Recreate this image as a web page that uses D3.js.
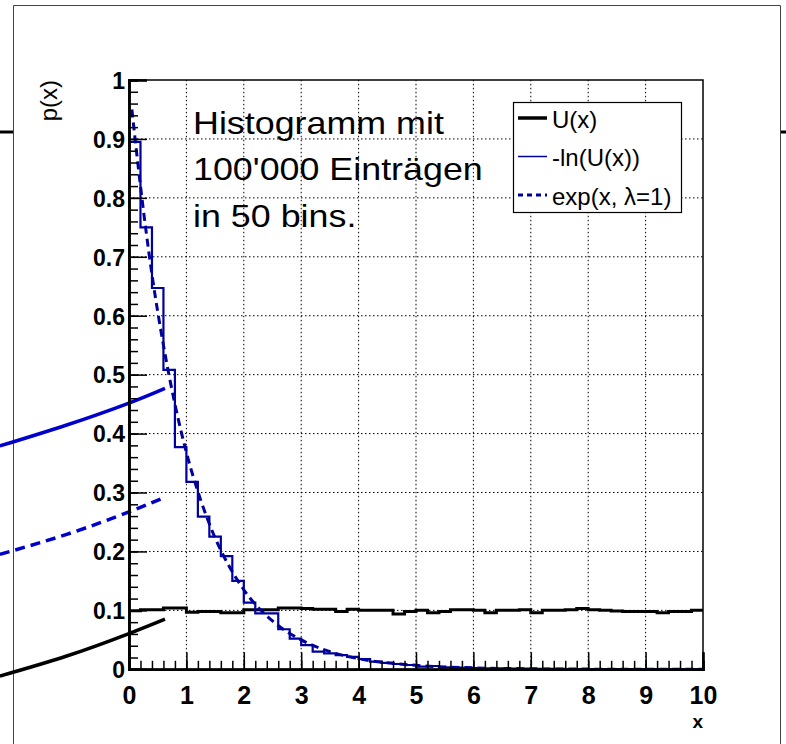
<!DOCTYPE html>
<html>
<head>
<meta charset="utf-8">
<script src="https://cdn.jsdelivr.net/npm/d3@7"></script>
<style>
  body { margin: 0; background: #fff; }
  svg { display: block; }
</style>
</head>
<body>
<svg id="chart" width="786" height="744"></svg>
<script>
// bin contents, 50 bins of width 0.2 on [0,10]
var BIN_WIDTH = 0.2;
var uniformHist = [0.0995, 0.101, 0.101, 0.104, 0.104, 0.097, 0.098, 0.098, 0.096, 0.096,
  0.101, 0.101, 0.101, 0.104, 0.104, 0.103, 0.102, 0.102, 0.098, 0.102,
  0.100, 0.100, 0.100, 0.094, 0.098, 0.100, 0.096, 0.098, 0.101, 0.101,
  0.100, 0.096, 0.100, 0.100, 0.101, 0.096, 0.100, 0.100, 0.101, 0.103,
  0.101, 0.100, 0.099, 0.098, 0.098, 0.098, 0.096, 0.098, 0.098, 0.100];
var expHist = [0.895, 0.75, 0.647, 0.508, 0.377, 0.318, 0.259, 0.225, 0.192, 0.150,
  0.113, 0.095, 0.095, 0.068, 0.052, 0.041, 0.030, 0.027, 0.024, 0.021,
  0.0175, 0.013, 0.011, 0.009, 0.0073, 0.0045, 0.0056, 0.0034, 0.003, 0.0025,
  0.002, 0.0018, 0.0015, 0.0012, 0.001, 0.0008, 0.0007, 0.0006, 0.0005, 0.0004,
  0.0004, 0.0003, 0.0003, 0.0002, 0.0002, 0.0002, 0.0001, 0.0001, 0.0001, 0.0001];
// dashed function curve
var expCurve = [[0.05, 0.95], [0.2, 0.82], [0.4, 0.67], [0.6, 0.55], [0.8, 0.45], [1.0, 0.368],
  [1.25, 0.287], [1.5, 0.223], [1.75, 0.174], [2.0, 0.135], [2.5, 0.082], [3.0, 0.05],
  [3.5, 0.03], [4.0, 0.018], [5.0, 0.0067], [6.0, 0.0025], [7.0, 0.0009], [8.0, 0.0003], [10.0, 0.00005]];
// stray curves sticking out left of the frame
var strayBlue = [[-2.25, 0.379], [-1.085, 0.4146], [-0.012, 0.4514], [0.627, 0.4768]];
var strayBlueDash = [[-2.25, 0.1951], [-1.085, 0.2290], [-0.012, 0.2667], [0.627, 0.2921]];
var strayBlack = [[-2.25, -0.0114], [-1.085, 0.0226], [-0.012, 0.0603], [0.627, 0.0852]];

var xMajor = d3.range(0, 11, 1);
var xMinor = d3.range(0, 10.01, 0.2);
var yMajor = d3.range(0, 1.01, 0.1);
var yMinor = d3.range(0, 1.001, 0.02);
var textLines = ["Histogramm mit", "100'000 Einträgen", "in 50 bins."];
var legendItems = ["U(x)", "-ln(U(x))", "exp(x, λ=1)"];

var HIST_BLUE = "#00009c";
var CURVE_BLUE = "#0000cc";
var FONT = "Liberation Sans, Arial, sans-serif";

var svg = d3.select("#chart");
var x = d3.scaleLinear().domain([0, 10]).range([129, 703]);
var y = d3.scaleLinear().domain([0, 1]).range([669.3, 80]);

// outer pad border and the little marks at its sides
svg.append("path").attr("d", "M13.5,744V5.5H780.5V744")
  .attr("fill", "none").attr("stroke", "#444").attr("stroke-width", 1);
svg.append("line").attr("x1", 0).attr("x2", 13).attr("y1", 132).attr("y2", 132)
  .attr("stroke", "#000").attr("stroke-width", 3);
svg.append("line").attr("x1", 781).attr("x2", 786).attr("y1", 132).attr("y2", 132)
  .attr("stroke", "#000").attr("stroke-width", 3);

// grid
var grid = svg.append("g").attr("stroke", "#000").attr("stroke-width", 1).attr("stroke-dasharray", "1.5,2.5");
grid.selectAll(".gx").data(xMajor.slice(1, -1)).join("line")
  .attr("x1", d => x(d)).attr("x2", d => x(d)).attr("y1", y(0)).attr("y2", y(1));
grid.selectAll(".gy").data(yMajor.slice(1, -1)).join("line")
  .attr("y1", d => y(d)).attr("y2", d => y(d)).attr("x1", x(0)).attr("x2", x(10));

// stray curves (drawn first, frame stays on top)
var smooth = d3.line().x(d => x(d[0])).y(d => y(d[1])).curve(d3.curveNatural);
svg.append("path").datum(strayBlue).attr("d", smooth)
  .attr("fill", "none").attr("stroke", CURVE_BLUE).attr("stroke-width", 3.5);
svg.append("path").datum(strayBlueDash).attr("d", smooth)
  .attr("fill", "none").attr("stroke", CURVE_BLUE).attr("stroke-width", 3.5).attr("stroke-dasharray", "10,6");
svg.append("path").datum(strayBlack).attr("d", smooth)
  .attr("fill", "none").attr("stroke", "#000").attr("stroke-width", 3.5);

// histograms as step lines
function stepPoints(vals) {
  var pts = [];
  vals.forEach(function(v, i) {
    pts.push([i * BIN_WIDTH, v]);
    pts.push([(i + 1) * BIN_WIDTH, v]);
  });
  return pts;
}
var straight = d3.line().x(d => x(d[0])).y(d => y(d[1]));
svg.append("path").datum(stepPoints(uniformHist)).attr("d", straight)
  .attr("fill", "none").attr("stroke", "#000").attr("stroke-width", 3);
svg.append("path").datum(stepPoints(expHist)).attr("d", straight)
  .attr("fill", "none").attr("stroke", HIST_BLUE).attr("stroke-width", 2.2);
svg.append("path").datum(expCurve).attr("d", d3.line().x(d => x(d[0])).y(d => y(d[1])).curve(d3.curveMonotoneX))
  .attr("fill", "none").attr("stroke", HIST_BLUE).attr("stroke-width", 3).attr("stroke-dasharray", "8,5");

// frame
svg.append("rect").attr("x", x(0)).attr("y", y(1)).attr("width", x(10) - x(0)).attr("height", y(0) - y(1))
  .attr("fill", "none").attr("stroke", "#000").attr("stroke-width", 1.5);

// axes
var fmt = d => String(+d.toFixed(1));
var xMinorAxis = svg.append("g").attr("transform", "translate(0," + y(0) + ")")
  .call(d3.axisBottom(x).tickValues(xMinor).tickSize(-8.5).tickFormat(""));
var xMajorAxis = svg.append("g").attr("transform", "translate(0," + y(0) + ")")
  .call(d3.axisBottom(x).tickValues(xMajor).tickSize(-17).tickPadding(17).tickFormat(fmt));
var yMinorAxis = svg.append("g").attr("transform", "translate(" + x(0) + ",0)")
  .call(d3.axisLeft(y).tickValues(yMinor).tickSize(-9).tickFormat(""));
var yMajorAxis = svg.append("g").attr("transform", "translate(" + x(0) + ",0)")
  .call(d3.axisLeft(y).tickValues(yMajor).tickSize(-18).tickPadding(4).tickFormat(fmt));
[xMinorAxis, xMajorAxis, yMinorAxis, yMajorAxis].forEach(function(g) {
  g.select(".domain").attr("stroke", "#000").attr("stroke-width", 2.5);
  g.selectAll(".tick line").attr("stroke", "#000").attr("stroke-width", 1.5);
});
xMajorAxis.selectAll("text").attr("font-family", FONT)
  .attr("font-weight", "bold").attr("font-size", 25).attr("fill", "#000");
yMajorAxis.selectAll("text").attr("font-family", FONT)
  .attr("font-weight", "bold").attr("font-size", 23).attr("fill", "#000").attr("dy", "0.36em");

// axis titles
svg.append("text").attr("x", 703).attr("y", 728).attr("text-anchor", "end")
  .attr("font-family", FONT).attr("font-weight", "bold").attr("font-size", 19)
  .text("x");
svg.append("text").attr("transform", "translate(57,80) rotate(-90)").attr("text-anchor", "end")
  .attr("font-family", FONT).attr("font-size", 24)
  .text("p(x)");

// annotation text, slightly widened like the original rendering
svg.append("g").attr("transform", "translate(193,0) scale(1.12,1)")
  .selectAll("text").data(textLines).join("text")
  .attr("x", 0).attr("y", (d, i) => 134 + i * 46.5)
  .attr("font-family", FONT).attr("font-size", 32)
  .text(d => d);

// legend
var legend = svg.append("g");
legend.append("rect").attr("x", 513.5).attr("y", 102.5).attr("width", 168).attr("height", 110)
  .attr("fill", "#fff").attr("stroke", "#000").attr("stroke-width", 1.2);
var legendStyles = [
  { color: "#000", width: 3.5, dash: null },
  { color: HIST_BLUE, width: 1.5, dash: null },
  { color: HIST_BLUE, width: 3, dash: "5,4" }
];
legendItems.forEach(function(label, i) {
  var cy = 119.5 + i * 38.5;
  legend.append("line").attr("x1", 518).attr("x2", 547).attr("y1", cy - 1.5).attr("y2", cy - 1.5)
    .attr("stroke", legendStyles[i].color).attr("stroke-width", legendStyles[i].width)
    .attr("stroke-dasharray", legendStyles[i].dash);
  legend.append("text").attr("x", 552).attr("y", cy).attr("dy", "0.35em")
    .attr("font-family", FONT).attr("font-size", 24)
    .text(label);
});
</script>
</body>
</html>
